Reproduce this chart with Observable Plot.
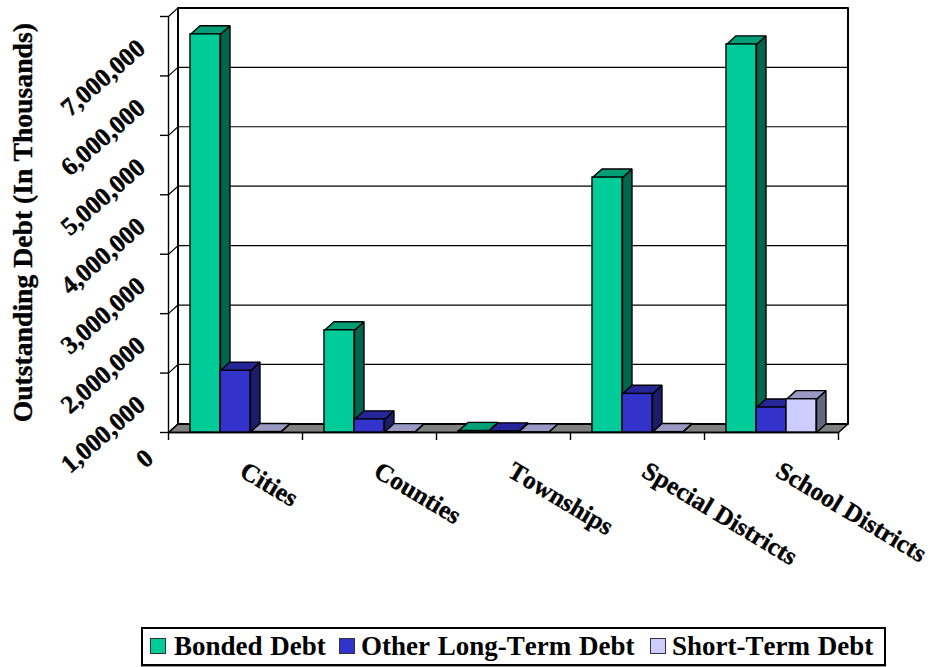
<!DOCTYPE html>
<html>
<head>
<meta charset="utf-8">
<script src="https://cdn.jsdelivr.net/npm/d3@7"></script>
<script src="https://cdn.jsdelivr.net/npm/@observablehq/plot@0.6"></script>
<style>
  html, body { margin: 0; padding: 0; background: #fff; overflow: hidden; }
  #chart svg { display: block; background: #fff; font-kerning: none; }
  #legend {
    position: absolute; left: 141px; top: 627px; width: 741px; height: 35px;
    border: 2px solid #000; box-shadow: 0 1px 0 #999;
    font: bold 27px "Liberation Serif", serif; font-kerning: none; word-spacing: 1px; color: #000; background: #fff;
  }
  #legend i { position: absolute; top: 9px; width: 14px; height: 14px; border: 1px solid #333; }
  #legend span { position: absolute; top: 0; line-height: 35px; white-space: nowrap; }
</style>
</head>
<body>
<div id="chart"></div>
<div id="legend"></div>
<script>
// Outstanding debt by kind of local government, in thousands of dollars.
const categories = ["Cities", "Counties", "Townships", "Special Districts", "School Districts"];
const seriesNames = ["Bonded Debt", "Other Long-Term Debt", "Short-Term Debt"];
const bondedDebt = [6700000, 1720000, 25000, 4290000, 6530000];
const otherLongTermDebt = [1040000, 220000, 18000, 650000, 420000];
const shortTermDebt = [8000, 5000, 3000, 6000, 560000];
const yTicks = [0, 1000000, 2000000, 3000000, 4000000, 5000000, 6000000, 7000000];
const yLabels = ["0", "1,000,000", "2,000,000", "3,000,000", "4,000,000", "5,000,000", "6,000,000", "7,000,000"];

const values = [bondedDebt, otherLongTermDebt, shortTermDebt];
const faceColors = [
  {front: "#00CC99", top: "#009E77", side: "#00664D"},
  {front: "#3333CC", top: "#262699", side: "#1C1C6B"},
  {front: "#CCCCFF", top: "#9999C4", side: "#666680"}
];

// Layout of the pseudo-3D box, in scale units (one x unit is one category).
const barWidth = 30 / 134;
const groupInset = 22 / 134;
const depthX = 9.5 / 134;
const depthY = 8.6 / 59.43 * 1e6;
const yMax = 7e6;
const xMax = 5;

const poly = pts => [...pts, pts[0]].map(([x, y]) => ({x, y}));
const face = (pts, fill, stroke = "#000", strokeWidth = 1.4) =>
  Plot.line(poly(pts), {x: "x", y: "y", fill, stroke, strokeWidth, strokeLinejoin: "miter"});

// Left to right, so that each bar overlaps the side of its neighbour.
const barFaces = [];
categories.forEach((_, c) => {
  values.forEach((series, s) => {
    const x0 = c + groupInset + s * barWidth;
    const x1 = x0 + barWidth;
    const v = series[c];
    const col = faceColors[s];
    barFaces.push(face([[x1, 0], [x1 + depthX, depthY], [x1 + depthX, v + depthY], [x1, v]], col.side));
    barFaces.push(face([[x0, v], [x0 + depthX, v + depthY], [x1 + depthX, v + depthY], [x1, v]], col.top));
    barFaces.push(Plot.rect([{x0, x1, v}], {x1: "x0", x2: "x1", y1: 0, y2: "v", fill: col.front, stroke: "#000", strokeWidth: 1.4}));
  });
});

const labelFont = {fontFamily: "Liberation Serif", fontWeight: "bold", fill: "#000", stroke: "#000", strokeWidth: 0.35};

const chart = Plot.plot({
  width: 932,
  height: 625,
  marginTop: 16,
  marginBottom: 193,
  marginLeft: 168,
  marginRight: 94,
  x: {type: "linear", domain: [0, xMax], axis: null},
  y: {type: "linear", domain: [0, yMax], axis: null},
  style: {overflow: "visible", background: "#fff"},
  marks: [
    // Back wall and floor
    face([[0, 0], [depthX, depthY], [xMax + depthX, depthY], [xMax, 0]], "#808080"),
    Plot.line(poly([[depthX, depthY], [depthX, yMax + depthY], [xMax + depthX, yMax + depthY], [xMax + depthX, depthY]]),
      {x: "x", y: "y", stroke: "#000", strokeWidth: 2}),
    // Gridlines run along the back wall and fold onto the left wall
    Plot.ruleY(yTicks.slice(1, -1), {y: d => d + depthY, x1: depthX, x2: xMax + depthX, stroke: "#000", strokeWidth: 1.2}),
    Plot.link(yTicks, {x1: 0, y1: d => d, x2: depthX, y2: d => d + depthY, stroke: "#000", strokeWidth: 1.2}),
    // Front-left axis with its ticks, and the category axis ticks
    Plot.ruleX([0], {y1: 0, y2: yMax, stroke: "#000", strokeWidth: 1.4}),
    Plot.ruleY([0], {x1: 0, x2: xMax, stroke: "#000", strokeWidth: 1.4}),
    Plot.axisY({ticks: yTicks, tickSize: 8, tickFormat: () => "", label: null, stroke: "#000", strokeWidth: 1.4}),
    Plot.axisX({ticks: d3.range(0, xMax + 1), tickSize: 8, tickFormat: () => "", label: null, stroke: "#000", strokeWidth: 1.4}),
    ...barFaces,
    // Value labels are set low and to the left of their ticks; the lone zero sits a little closer
    Plot.text(yTicks.slice(1), {
      x: 0, y: d => d, text: d => yLabels[yTicks.indexOf(d)],
      dx: -27, dy: 28, rotate: -41, textAnchor: "end", fontSize: 25.5, ...labelFont
    }),
    Plot.text(yTicks.slice(0, 1), {
      x: 0, y: d => d, text: d => yLabels[yTicks.indexOf(d)],
      dx: -19, dy: 22, rotate: -41, textAnchor: "end", fontSize: 25.5, ...labelFont
    }),
    Plot.text(categories, {
      x: (d, i) => i + 0.5, y: 0, text: d => d,
      dx: 7, dy: 36, rotate: 31, textAnchor: "start", fontSize: 25.4, ...labelFont
    }),
    Plot.text(["Outstanding Debt (In Thousands)"], {
      frameAnchor: "left", dx: -145, y: () => 3.53e6, rotate: -90, textAnchor: "middle", text: d => d,
      fontSize: 27.7, ...labelFont
    })
  ]
});
document.getElementById("chart").append(chart);

// Legend below the plot
const swatchX = [7, 196, 507];
const labelX = [31, 218, 529];
const legend = d3.select("#legend");
seriesNames.forEach((name, s) => {
  legend.append("i").style("left", swatchX[s] + "px").style("background", faceColors[s].front);
  legend.append("span").style("left", labelX[s] + "px").text(name);
});
</script>
</body>
</html>
